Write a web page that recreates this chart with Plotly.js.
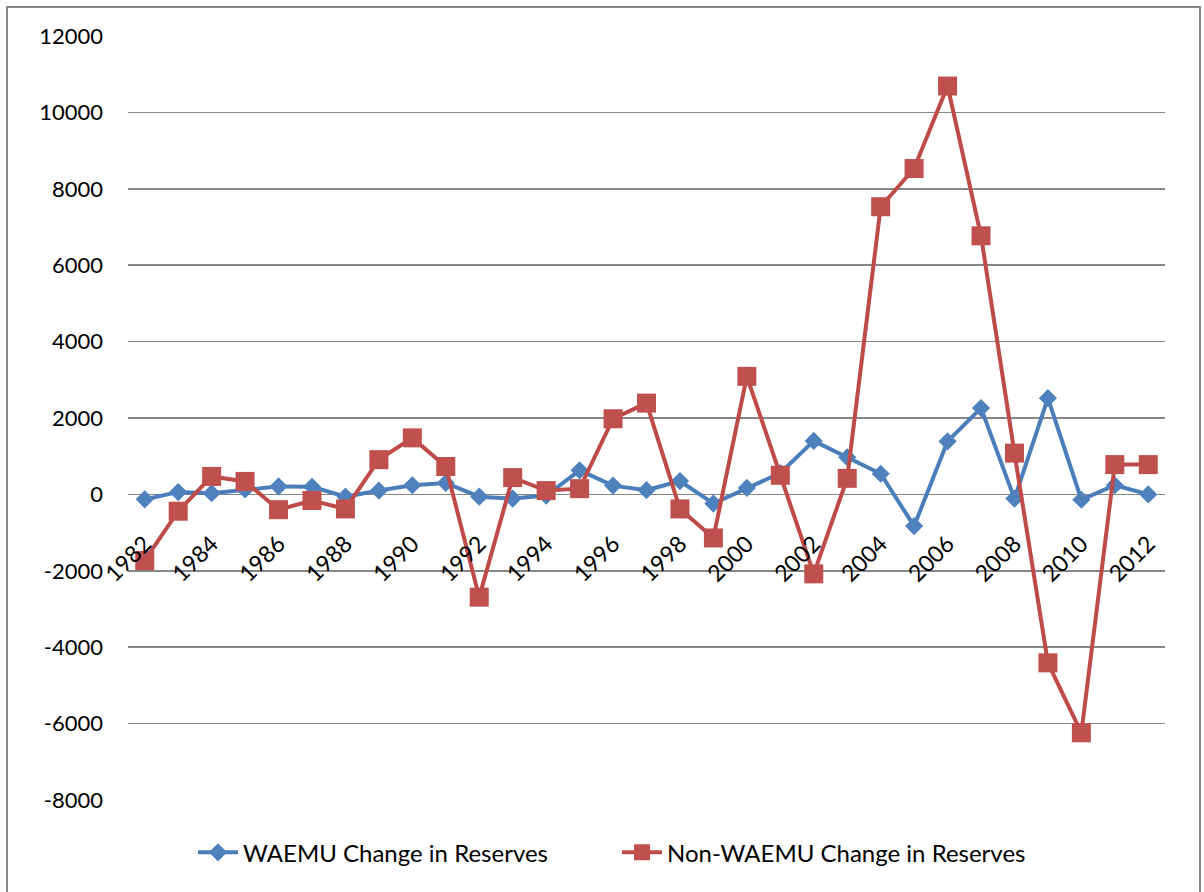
<!DOCTYPE html>
<html>
<head>
<meta charset="utf-8">
<script src="https://cdn.plot.ly/plotly-3.0.1.min.js"></script>
<style>html,body{margin:0;padding:0;background:#fff;}#chart{width:1204px;height:892px;}</style>
</head>
<body>
<div id="chart"></div>
<script>
const years = [1982,1983,1984,1985,1986,1987,1988,1989,1990,1991,1992,1993,1994,1995,1996,1997,1998,1999,2000,2001,2002,2003,2004,2005,2006,2007,2008,2009,2010,2011,2012];
const waemuChange = [-130,60,30,130,210,200,-60,100,240,300,-60,-110,-30,630,230,110,350,-240,170,560,1400,970,540,-830,1390,2260,-110,2520,-140,240,0];
const nonWaemuChange = [-1730,-440,470,340,-400,-160,-380,910,1480,730,-2690,440,100,150,1980,2390,-380,-1140,3090,500,-2080,420,7530,8530,10690,6770,1080,-4410,-6240,780,780];
const tickYears = [1982,1984,1986,1988,1990,1992,1994,1996,1998,2000,2002,2004,2006,2008,2010,2012];
const tickLabels = tickYears.map(String);
const yTicks = [-8000,-6000,-4000,-2000,0,2000,4000,6000,8000,10000,12000];
const seriesNames = ['WAEMU Change in Reserves','Non-WAEMU Change in Reserves'];

const FONT = 'Lato, "Open Sans", "Liberation Sans", sans-serif';

const traces = [
  {
    x: years, y: waemuChange, name: seriesNames[0], type: 'scatter', mode: 'lines+markers',
    line: {color: '#4A7EBB', width: 4},
    marker: {symbol: 'diamond', size: 14, color: '#4F81BD', line: {width: 0}}
  },
  {
    x: years, y: nonWaemuChange, name: seriesNames[1], type: 'scatter', mode: 'lines+markers',
    line: {color: '#BE4B48', width: 4},
    marker: {symbol: 'square', size: 19, color: '#C0504D', line: {width: 0}}
  }
];

const layout = {
  width: 1204, height: 892,
  margin: {l: 128, r: 39, t: 36, b: 92},
  paper_bgcolor: '#fff', plot_bgcolor: '#fff',
  font: {family: FONT, size: 22, color: '#000'},
  showlegend: true,
  legend: {
    orientation: 'h', x: (186 + 7 - 128) / 1037, xanchor: 'left', y: -0.069, yanchor: 'middle',
    font: {family: FONT, size: 24, color: '#000'}, itemwidth: 40, tracegroupgap: 0,
    entrywidth: 369
  },
  xaxis: {
    range: [1981.5, 2012.5],
    anchor: 'free', position: 0.4,
    tickmode: 'array', tickvals: tickYears, ticktext: tickLabels,
    tickangle: -45, ticks: 'outside', ticklen: 26, tickcolor: 'rgba(0,0,0,0)',
    showgrid: false, zeroline: false, showline: false,
    tickfont: {family: FONT, size: 23, color: '#000'}
  },
  yaxis: {
    range: [-8000, 12000],
    tickmode: 'array', tickvals: yTicks, ticktext: yTicks.map(String),
    showgrid: true, gridcolor: '#868686', gridwidth: 1.5,
    zeroline: false, showline: false, ticks: '',
    ticklabelstandoff: 24,
    tickfont: {family: FONT, size: 22, color: '#000'}
  },
  shapes: [
    {type: 'rect', xref: 'paper', yref: 'paper',
     x0: (7-128)/1037, x1: (1200-128)/1037, y0: (800-900)/764, y1: (800-7)/764,
     line: {color: '#868686', width: 2}, fillcolor: 'rgba(0,0,0,0)', layer: 'below'}
  ]
};

Plotly.newPlot('chart', traces, layout, {displayModeBar: false, staticPlot: true});
</script>
</body>
</html>
